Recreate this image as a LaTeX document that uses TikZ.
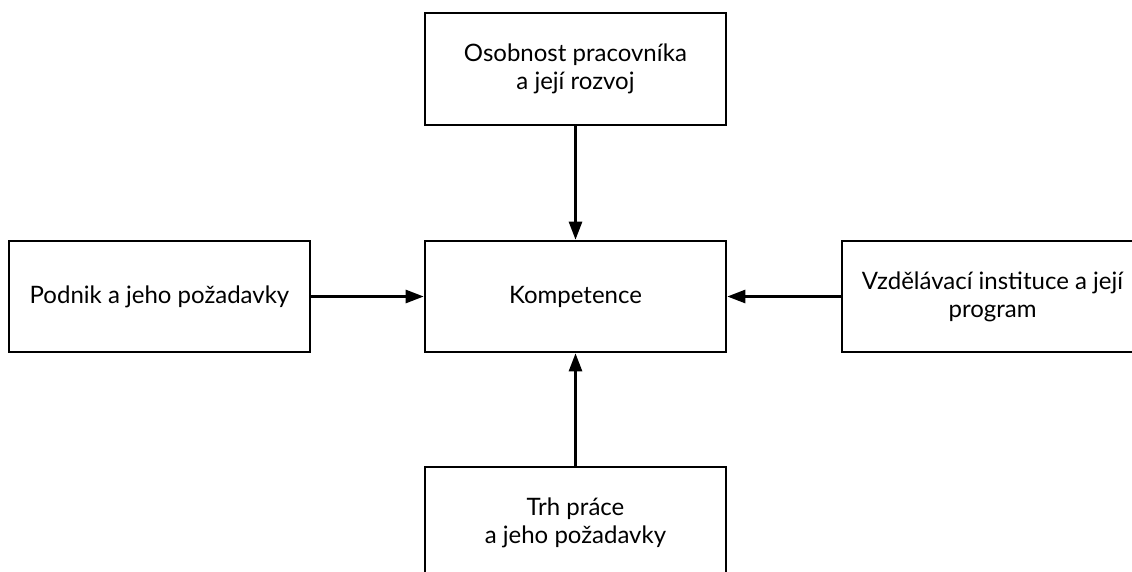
\documentclass[tikz,border=0pt]{standalone}
\usepackage{fontspec}
\setmainfont{Lato}
\usetikzlibrary{arrows.meta}
\begin{document}
\begin{tikzpicture}[x=1pt,y=-1pt,
  box/.style={draw=black, line width=2.6pt, minimum width=301pt, minimum height=111pt,
    inner sep=0pt, align=center, font=\fontsize{24}{28}\selectfont},
  link/.style={line width=2.6pt, -{Triangle[length=18pt,width=13pt]}}]
  \clip (0,0) rectangle (1132,571);
  \fill[white] (0,0) rectangle (1132,571);
  \node[box] (center) at (575.5,296.5) {Kompetence};
  \node[box, minimum height=112pt] (top) at (575.5,69) {Osobnost pracovníka\\a její rozvoj};
  \node[box] (left) at (159.5,296.5) {Podnik a jeho požadavky};
  \node[box] (right) at (992.5,296.5) {Vzdělávací instituce a její\\program};
  \node[box] (bottom) at (575.5,522.5) {Trh práce\\a jeho požadavky};
  \draw[link] (top.south) -- (center.north);
  \draw[link] (left.east) -- (center.west);
  \draw[link] (right.west) -- (center.east);
  \draw[link] (bottom.north) -- (center.south);
\end{tikzpicture}
\end{document}
